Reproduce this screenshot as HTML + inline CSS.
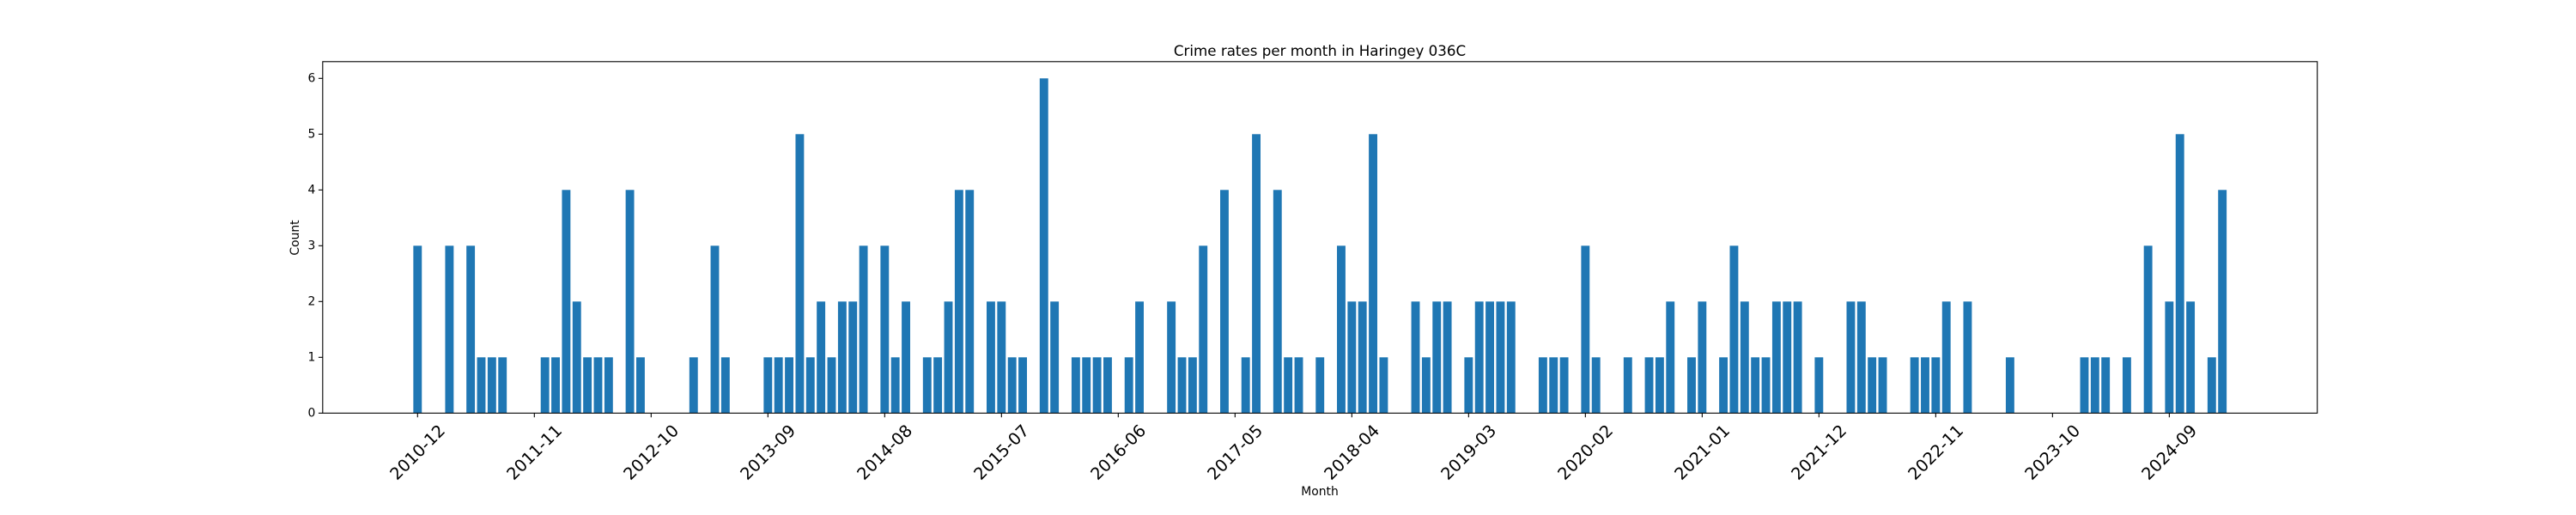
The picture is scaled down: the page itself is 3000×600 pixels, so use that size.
<!DOCTYPE html>
<html><head><meta charset="utf-8"><style>
html,body{margin:0;padding:0;background:#fff;}
svg{display:block;font-family:"DejaVu Sans","Liberation Sans",sans-serif;}
</style></head><body>
<svg id="chart" width="3000" height="600" viewBox="0 0 3000 600" xmlns="http://www.w3.org/2000/svg">
<rect width="3000" height="600" fill="#fff"/>
<text x="1537" y="65" font-size="16.7" text-anchor="middle" fill="#000">Crime rates per month in Haringey 036C</text>
<text x="1537" y="577" font-size="13.9" text-anchor="middle" fill="#000">Month</text>
<text x="0" y="0" font-size="13.9" text-anchor="middle" transform="translate(348,277) rotate(-90)" fill="#000">Count</text>
<g id="bars"></g>
<g id="yaxis"></g>
<g id="xaxis"></g>
<rect x="375.8" y="71.8" width="2322.9" height="409.5" fill="none" stroke="#000" stroke-width="1.1"/>
</svg>
<script>
const startYear = 2010, startMonth = 12;
const counts = [
3,0,0,3,0,3,1,1,1,0, 0,0,1,1,4,2,1,1,1,0,
4,1,0,0,0,0,1,0,3,1, 0,0,0,1,1,1,5,1,2,1,
2,2,3,0,3,1,2,0,1,1, 2,4,4,0,2,2,1,1,0,6,
2,0,1,1,1,1,0,1,2,0, 0,2,1,1,3,0,4,0,1,5,
0,4,1,1,0,1,0,3,2,2, 5,1,0,0,2,1,2,2,0,1,
2,2,2,2,0,0,1,1,1,0, 3,1,0,0,1,0,1,1,2,0,
1,2,0,1,3,2,1,1,2,2, 2,0,1,0,0,2,2,1,1,0,
0,1,1,1,2,0,2,0,0,0, 1,0,0,0,0,0,0,1,1,1,
0,1,0,3,0,2,5,2,0,1, 4
];
const yTicks = [0,1,2,3,4,5,6];
const xTickLabels = ["2010-12","2011-11","2012-10","2013-09","2014-08","2015-07","2016-06","2017-05","2018-04","2019-03","2020-02","2021-01","2021-12","2022-11","2023-10","2024-09"];

const NS = "http://www.w3.org/2000/svg";
const X0 = 486.3, MW = 12.364, Y0 = 481.3, YU = 65.0, AXL = 375.8;
function xScale(i){ return X0 + i*MW; }
function yScale(v){ return Y0 - v*YU; }
function monthIndex(label){
  const [y,m] = label.split("-").map(Number);
  return (y-startYear)*12 + (m-startMonth);
}
function mk(tag, attrs){ const e=document.createElementNS(NS,tag); for(const k in attrs) e.setAttribute(k,attrs[k]); return e; }

const bars = document.getElementById("bars");
counts.forEach((v,i)=>{
  if(v<=0) return;
  const r = mk("rect",{x:xScale(i)-0.4*MW, y:yScale(v), width:0.8*MW, height:Y0-yScale(v), fill:"#1f77b4"});
  
  
  bars.appendChild(r);
});

const ya = document.getElementById("yaxis");
yTicks.forEach(t=>{
  const y = yScale(t);
  const l = mk("line",{x1:AXL-4.9, x2:AXL, y1:y, y2:y, stroke:"#000", "stroke-width":1.1});
  
  
  ya.appendChild(l);
  const tx = mk("text",{x:AXL-8.5, y:y, "font-size":13.9, "text-anchor":"end", "dominant-baseline":"central", fill:"#000"});
  tx.textContent = String(t);
  
  
  ya.appendChild(tx);
});

const xa = document.getElementById("xaxis");
xTickLabels.forEach(lab=>{
  const x = xScale(monthIndex(lab));
  const l = mk("line",{x1:x, x2:x, y1:Y0, y2:Y0+4.9, stroke:"#000", "stroke-width":1.1});
  
  
  xa.appendChild(l);
  const tx = mk("text",{x:0, y:0, "font-size":19.4, "text-anchor":"middle", "dominant-baseline":"central", fill:"#000", transform:`translate(${x},527) rotate(-45)`});
  tx.textContent = lab;
  
  
  xa.appendChild(tx);
});
</script>
</body></html>
